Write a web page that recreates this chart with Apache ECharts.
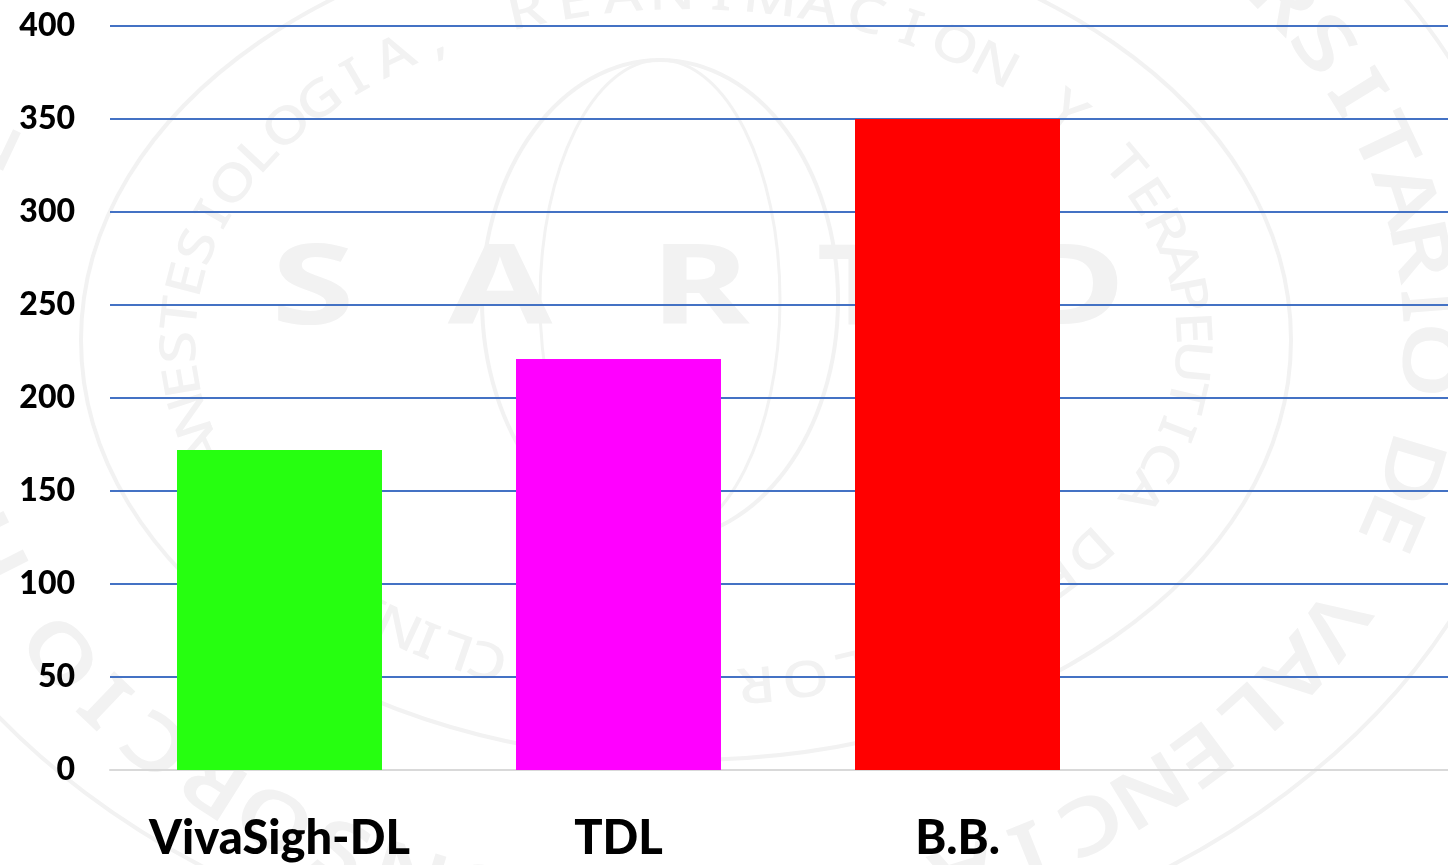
<!DOCTYPE html>
<html>
<head>
<meta charset="utf-8">
<style>html,body{margin:0;padding:0;background:#fff}#c{width:1448px;height:865px}</style>
<script src="https://cdn.jsdelivr.net/npm/echarts@6/dist/echarts.min.js"></script>
</head>
<body>
<div id="c"></div>
<script>
const categories = ["VivaSigh-DL", "TDL", "B.B.", ""];
const values = [172, 221, 350, null];
const barColors = ["#26ff10", "#ff00ff", "#ff0000", "#ffffff"];
const watermarkTitle = ["S", "A", "R", "T", "D"];
const watermarkInner = "ANESTESIOLOGIA, REANIMACION Y TERAPEUTICA DEL DOLOR";
const watermarkOuter = "UNIVERSITARIO DE VALENCIA";
const watermarkOuterLeft = "CONSORCIO HOSPITAL";

const INK = "#f2f2f2";
function arc(text, cx, cy, rx, ry, from, to, size, sx, weight) {
  const n = text.length, out = [];
  for (let i = 0; i < n; i++) {
    if (text[i] === " ") continue;
    const t = (from + (to - from) * i / (n - 1)) * Math.PI / 180;
    const x = cx + rx * Math.sin(t), y = cy - ry * Math.cos(t);
    const rot = Math.atan2(ry * Math.sin(t), rx * Math.cos(t));
    out.push({ type: "text", z: -10, x, y, rotation: -rot, silent: true,
      scaleX: sx, style: { text: text[i], fill: INK, font: weight + " " + size + "px 'Noto Sans'", align: "center", verticalAlign: "middle" } });
  }
  return out;
}
function ring(cx, cy, rx, ry, w) {
  return { type: "ellipse", z: -10, silent: true, shape: { cx, cy, rx, ry }, style: { fill: "none", stroke: INK, lineWidth: w } };
}
const titleX = [313, 500, 700, 860, 1070];
const watermark = [
  ring(686, 340, 605, 420, 4),
  ring(686, 340, 850, 640, 4),
  ring(660, 300, 178, 240, 4),
  ring(660, 300, 120, 240, 3),
  ...arc(watermarkInner, 686, 340, 505, 345, -108, 172, 50, 1.2, 500),
  ...arc("CLINICA", 686, 340, 505, 345, 203, 226, 50, 1.2, 500),
  ...arc(watermarkOuter, 686, 340, 740, 570, 26, 158, 78, 1.25, 600),
  ...arc(watermarkOuterLeft, 686, 340, 740, 570, 190, 290, 78, 1.25, 600),
  ...watermarkTitle.map((ch, i) => ({ type: "text", z: -10, silent: true, x: titleX[i], y: 292, scaleX: 1.35,
    style: { text: ch, fill: INK, font: "700 112px 'Noto Sans'", align: "center", verticalAlign: "middle" } }))
];

const chart = echarts.init(document.getElementById("c"), null, { renderer: "canvas" });
chart.setOption({
  animation: false,
  backgroundColor: "#ffffff",
  graphic: { elements: watermark },
  grid: { left: 110, top: 26, width: 1356, height: 744, containLabel: false, outerBoundsMode: "none" },
  xAxis: {
    type: "category", data: categories,
    axisLine: { show: true, lineStyle: { color: "#d9d9d9", width: 2 } },
    axisTick: { show: false },
    axisLabel: { margin: 45, color: "#000", fontFamily: "Lato", fontWeight: 900, fontSize: 47, interval: 0 }
  },
  yAxis: {
    type: "value", min: 0, max: 400, interval: 50,
    axisLine: { show: false }, axisTick: { show: false },
    splitLine: { show: true, lineStyle: { color: "#4472c4", width: 2 } },
    axisLabel: { margin: 35, color: "#000", fontFamily: "Lato", fontWeight: 900, fontSize: 32, padding: [0, 0, 8, 0] }
  },
  series: [{
    type: "bar", barWidth: 205, z: 5,
    data: values.map((v, i) => ({ value: v, itemStyle: { color: barColors[i] } }))
  }]
});
</script>
</body>
</html>
